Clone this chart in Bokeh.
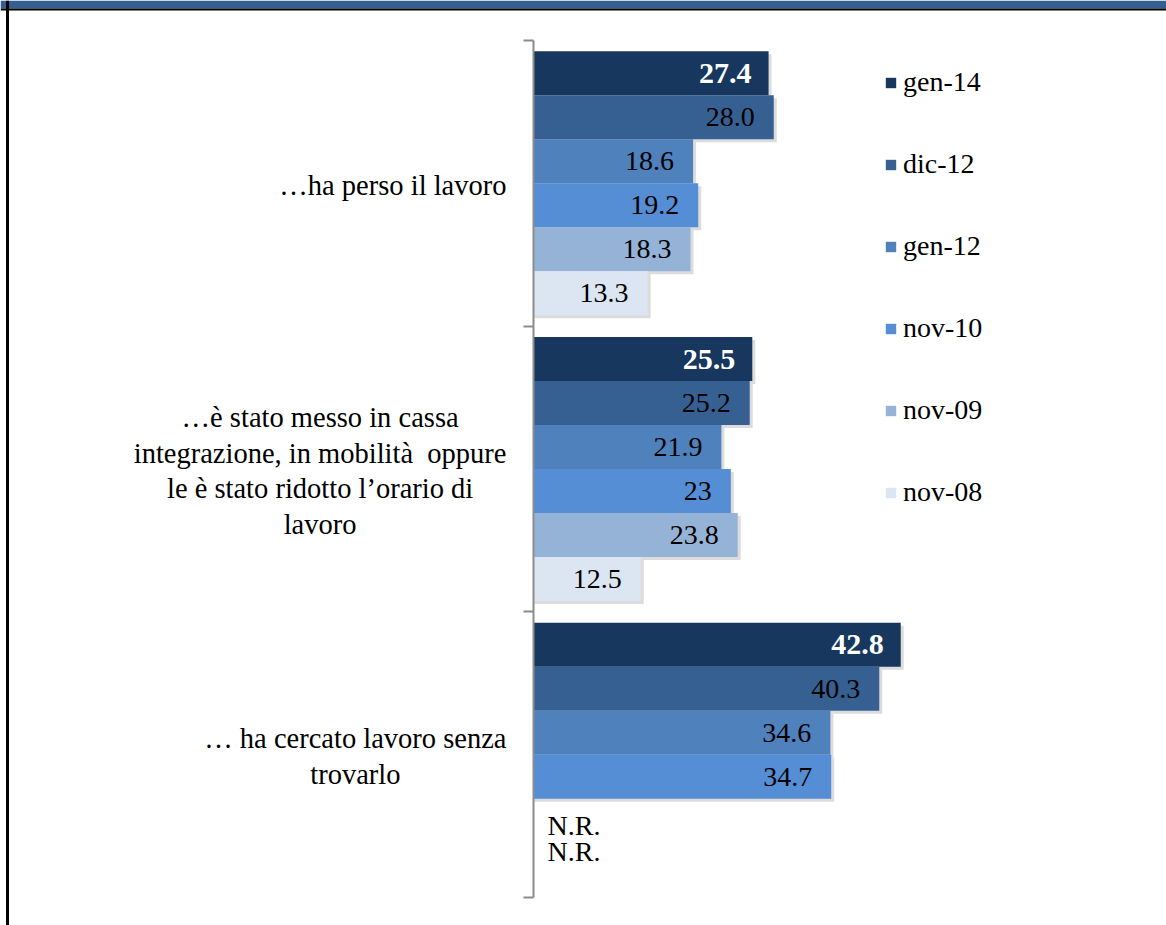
from bokeh.plotting import figure
from bokeh.models import (ColumnDataSource, Range1d, LinearAxis, FixedTicker,
                          Legend, LegendItem, Span, BoxAnnotation)
from bokeh.core.properties import value
from bokeh.embed import file_html
from bokeh.resources import INLINE

# ---------------- data ----------------
categories = [
    "…ha perso il lavoro",
    "…è stato messo in cassa\nintegrazione, in mobilità\u00a0 oppure\nle è stato ridotto l’orario di\nlavoro",
    "… ha cercato lavoro senza\ntrovarlo",
]
series = ["gen-14", "dic-12", "gen-12", "nov-10", "nov-09", "nov-08"]
gen_14 = [27.4, 25.5, 42.8]
dic_12 = [28.0, 25.2, 40.3]
gen_12 = [18.6, 21.9, 34.6]
nov_10 = [19.2, 23.0, 34.7]
nov_09 = [18.3, 23.8, None]
nov_08 = [13.3, 12.5, None]
label_overrides = {("nov-10", 1): "23"}
missing_label = "N.R."

values = [gen_14, dic_12, gen_12, nov_10, nov_09, nov_08]
colors = ["#17375e", "#376092", "#4f81bd", "#558ed5", "#95b3d7", "#dce6f2"]

# ---------------- layout constants ----------------
FONT_NAME = "Liberation Serif"
FONT = value(FONT_NAME)
PX_PER_UNIT = 8.58          # px per percentage point
X0_PX = 533                 # page x of value 0
FIG_W, FIG_H = 1166, 925
MIN_RIGHT = 0
GROUP_TOP_PX = 40           # page y of first group boundary
GROUP_PX = (897 - 40) / 3.0
BAR_H = 0.154               # bar thickness as fraction of a group


def px_x(px):
    return (px - X0_PX) / PX_PER_UNIT


def px_y(py):
    return (py - GROUP_TOP_PX) / GROUP_PX


x_start = px_x(0)
x_end = px_x(FIG_W - MIN_RIGHT)
y_top = px_y(0)
y_bottom = px_y(FIG_H)

p = figure(width=FIG_W, height=FIG_H, output_backend="svg", toolbar_location=None,
           x_range=Range1d(x_start, x_end), y_range=Range1d(y_bottom, y_top),
           x_axis_type=None, y_axis_type=None,
           min_border_left=0, min_border_right=MIN_RIGHT,
           min_border_top=0, min_border_bottom=0,
           outline_line_color=None, background_fill_color="white",
           border_fill_color="white")

legend_items = []
for k, (name, vals, col) in enumerate(zip(series, values, colors)):
    ys, xs, labels = [], [], []
    nr_y = []
    for g, v in enumerate(vals):
        yc = g + 0.5 + (k - 2.5) * BAR_H
        if v is None:
            nr_y.append(yc)
            continue
        ys.append(yc)
        xs.append(v)
        labels.append(label_overrides.get((name, g), f"{v:.1f}"))
    src = ColumnDataSource(dict(y=ys, x=xs, label=labels,
                                sy=[yy + 3 / GROUP_PX for yy in ys],
                                sx=[xx + 3 / PX_PER_UNIT for xx in xs]))
    # soft shadow
    p.hbar(y="sy", left=0, right="sx", height=BAR_H, source=src,
           fill_color="#9a9a9a", fill_alpha=0.35, line_color=None)
    r = p.hbar(y="y", left=0, right="x", height=BAR_H, source=src,
               fill_color=col, line_color=None)
    legend_items.append(LegendItem(label=name, renderers=[r]))
    if k == 0:
        p.text(x="x", y="y", text="label", source=src, x_offset=-17,
               text_align="right", text_baseline="middle", text_color="white",
               text_font=FONT, text_font_size="30px", text_font_style="bold")
    else:
        p.text(x="x", y="y", text="label", source=src, x_offset=-19,
               text_align="right", text_baseline="middle", text_color="black",
               text_font=FONT, text_font_size="28px")
    if nr_y:
        off = 5 if name == "nov-09" else -13
        p.text(x=[0] * len(nr_y), y=nr_y, text=[missing_label] * len(nr_y),
               x_offset=14, y_offset=off, text_align="left", text_baseline="middle",
               text_color="black", text_font=FONT, text_font_size="28px")

# category labels (wrapped, centered lines, block right-aligned near axis)
p.text(x=[0] * len(categories), y=[g + 0.5 for g in range(len(categories))],
       text=categories, x_offset=-27, y_offset=2, anchor="center_right",
       text_align="center", text_baseline="middle", text_line_height=1.15,
       text_color="black", text_font=FONT, text_font_size="28.5px")

# axis with boundary ticks pointing left, placed at value 0
ax = LinearAxis(fixed_location=0, ticker=FixedTicker(ticks=[0, 1, 2, 3]),
                bounds=(0, 3), axis_line_color="#8c8c8c", axis_line_width=2,
                major_tick_line_color="#8c8c8c", major_tick_line_width=2,
                major_tick_in=10, major_tick_out=0, minor_tick_line_color=None,
                major_label_overrides={0: "", 1: "", 2: "", 3: ""},
                major_label_standoff=0)
p.add_layout(ax, "right")

legend = Legend(items=legend_items, location=(884, 417), orientation="vertical",
                glyph_width=13, glyph_height=13, label_height=32, spacing=50,
                padding=0, margin=0, label_standoff=6,
                label_text_font=FONT_NAME, label_text_font_size="28px",
                label_text_color="black", border_line_color=None,
                background_fill_alpha=0)
p.add_layout(legend, "center")

# page frame: top strip, black rule, left border
p.add_layout(BoxAnnotation(left=x_start, right=x_end, top=y_top, bottom=px_y(8),
                           fill_color="#365f91", fill_alpha=1, line_color=None))
p.add_layout(BoxAnnotation(left=x_start, right=x_end, top=px_y(8), bottom=px_y(10),
                           fill_color="black", fill_alpha=1, line_color=None))
p.add_layout(Span(location=px_x(7), dimension="height",
                  line_color="black", line_width=3))

open("out.html", "w").write(file_html(p, INLINE))
